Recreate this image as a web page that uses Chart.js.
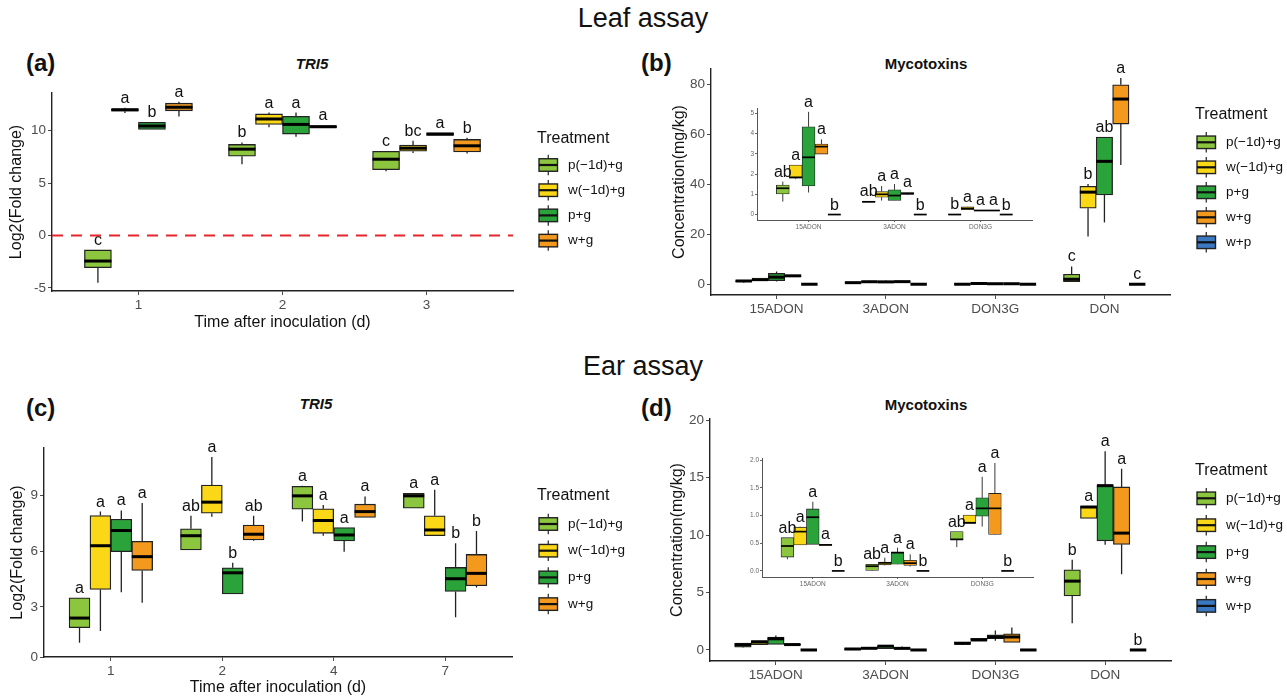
<!DOCTYPE html>
<html>
<head>
<meta charset="utf-8">
<script src="https://cdn.jsdelivr.net/npm/chart.js@4.4.0/dist/chart.umd.min.js"></script>
<style>
  body { margin: 0; background: #fff; width: 1287px; height: 700px; position: relative; overflow: hidden;
         font-family: "Liberation Sans", Arial, Helvetica, sans-serif; color: #111; }
  canvas { position: absolute; }
  .txt { position: absolute; white-space: nowrap; line-height: 1; }
  .head { font-size: 27px; transform: translateX(-50%); }
  .plab { font-size: 24px; font-weight: bold; }
  .ptitle { font-size: 15px; font-weight: bold; transform: translateX(-50%); }
</style>
</head>
<body>
<div class="txt head" style="left:643px;top:5px">Leaf assay</div>
<div class="txt head" style="left:643px;top:353px">Ear assay</div>
<div class="txt plab" style="left:26px;top:51px">(a)</div>
<div class="txt plab" style="left:641px;top:51px">(b)</div>
<div class="txt plab" style="left:26px;top:396px">(c)</div>
<div class="txt plab" style="left:641px;top:396px">(d)</div>
<div class="txt ptitle" style="left:312px;top:56px;font-style:italic">TRI5</div>
<div class="txt ptitle" style="left:926px;top:56px">Mycotoxins</div>
<div class="txt ptitle" style="left:316px;top:396px;font-style:italic">TRI5</div>
<div class="txt ptitle" style="left:926px;top:397px">Mycotoxins</div>

<canvas id="leafTri5" width="640" height="330" style="left:0;top:40px"></canvas>
<canvas id="leafTox" width="647" height="330" style="left:640px;top:40px"></canvas>
<canvas id="leafToxZoom" width="312" height="158" style="left:730px;top:80px"></canvas>
<canvas id="earTri5" width="640" height="320" style="left:0;top:380px"></canvas>
<canvas id="earTox" width="647" height="320" style="left:640px;top:380px"></canvas>
<canvas id="earToxZoom" width="312" height="168" style="left:735px;top:425px"></canvas>

<script>
// treatments, shared by all four panels
const TREATMENTS = ['p(−1d)+g', 'w(−1d)+g', 'p+g', 'w+g', 'w+p'];
const TREATMENT_COLORS = ['#8cc63e', '#fbd817', '#2ba33b', '#f39a1e', '#3b78c2'];

// each box is [min, q1, median, q3, max]

// (a) leaf assay, TRI5, by day
const LEAF_DAYS = ['1', '2', '3'];
const LEAF_TRI5_P1G = [[-4.52, -3.08, -2.44, -1.38, -1.38], [6.80, 7.56, 8.24, 8.69, 8.88], [6.12, 6.28, 7.28, 8.04, 8.04]];
const LEAF_TRI5_W1G = [[11.70, 11.86, 12.00, 12.10, 12.20], [10.32, 10.60, 11.12, 11.60, 11.73], [7.88, 8.04, 8.33, 8.62, 9.04]];
const LEAF_TRI5_PG = [[10.13, 10.13, 10.45, 10.80, 10.80], [9.42, 9.68, 10.60, 11.38, 11.73], [9.52, 9.55, 9.68, 9.80, 9.80]];
const LEAF_TRI5_WG = [[11.35, 11.90, 12.24, 12.63, 12.76], [10.26, 10.30, 10.38, 10.50, 10.50], [7.82, 7.98, 8.56, 9.17, 9.33]];
const LEAF_TRI5_LETTERS = [['c', 'b', 'c'], ['a', 'a', 'bc'], ['b', 'a', 'a'], ['a', 'a', 'b']];
const LEAF_TRI5_TICKS = [-5, 0, 5, 10];

// (b) leaf assay, mycotoxins (inset = first three toxins)
const TOXINS = ['15ADON', '3ADON', 'DON3G', 'DON'];
const LEAF_TOX_P1G = [[0.64, 1.02, 1.30, 1.46, 1.63], [0.60, 0.61, 0.63, 0.65, 0.66], [0, 0, 0, 0.01, 0.01], [1.07, 1.07, 2.00, 4.00, 7.10]];
const LEAF_TOX_W1G = [[1.75, 1.80, 1.84, 2.45, 2.45], [0.69, 0.86, 1.00, 1.13, 1.41], [0.23, 0.24, 0.30, 0.38, 0.39], [19.1, 30.4, 36.8, 39.1, 40.1]];
const LEAF_TOX_PG = [[1.09, 1.41, 2.83, 4.34, 5.08], [0.69, 0.70, 0.94, 1.22, 1.51], [0.18, 0.19, 0.20, 0.21, 0.22], [24.7, 35.7, 49.1, 58.8, 58.8]];
const LEAF_TOX_WG = [[2.99, 2.99, 3.36, 3.49, 3.72], [0.97, 1.00, 1.04, 1.09, 1.10], [0.18, 0.19, 0.20, 0.21, 0.22], [47.6, 64.0, 74.0, 79.7, 82.4]];
const LEAF_TOX_WP = [[0, 0, 0, 0, 0], [0, 0, 0, 0, 0], [0, 0, 0, 0, 0], [0, 0, 0, 0, 0]];
const LEAF_TOX_LETTERS = [['ab', 'ab', 'b', 'c'], ['a', 'a', 'a', 'b'], ['a', 'a', 'a', 'ab'], ['a', 'a', 'a', 'a'], ['b', 'b', 'b', 'c']];
const LEAF_TOX_TICKS = [0, 20, 40, 60, 80];
const LEAF_ZOOM_TICKS = [0, 1, 2, 3, 4, 5];

// (c) ear assay, TRI5, by day
const EAR_DAYS = ['1', '2', '4', '7'];
const EAR_TRI5_P1G = [[1.07, 1.88, 2.40, 3.49, 3.49], [6.07, 6.07, 6.84, 7.21, 7.91], [7.60, 8.27, 8.99, 9.50, 9.53], [8.32, 8.32, 8.99, 9.12, 9.12]];
const EAR_TRI5_W1G = [[1.70, 3.94, 6.30, 7.93, 8.14], [7.86, 8.05, 8.65, 9.57, 11.09], [6.84, 6.97, 7.66, 8.29, 8.49], [6.84, 6.84, 7.15, 7.91, 9.32]];
const EAR_TRI5_PG = [[3.79, 5.98, 7.12, 7.73, 8.20], [3.70, 3.70, 4.84, 5.11, 5.38], [5.98, 6.56, 6.88, 7.28, 7.28], [2.44, 3.83, 4.52, 5.13, 6.43]];
const EAR_TRI5_WG = [[3.23, 4.97, 5.71, 6.54, 8.60], [6.57, 6.61, 6.92, 7.42, 7.91], [7.82, 7.82, 8.14, 8.54, 8.96], [4.05, 4.14, 4.81, 5.83, 7.10]];
const EAR_TRI5_LETTERS = [['a', 'ab', 'a', 'a'], ['a', 'a', 'a', 'a'], ['a', 'b', 'a', 'b'], ['a', 'ab', 'a', 'b']];
// the original puts a "0" label at the bottom end of the axis
const EAR_TRI5_TICKS = [0.3, 3, 6, 9];
const EAR_TRI5_TICK_LABELS = ['0', '3', '6', '9'];

// (d) ear assay, mycotoxins (inset = first three toxins)
const EAR_TOX_P1G = [[0.21, 0.25, 0.45, 0.60, 0.60], [0, 0.01, 0.085, 0.12, 0.12], [0.43, 0.56, 0.57, 0.71, 0.71], [2.33, 4.71, 5.99, 6.98, 7.85]];
const EAR_TOX_W1G = [[0.47, 0.47, 0.71, 0.79, 0.80], [0.10, 0.11, 0.145, 0.16, 0.24], [0.86, 0.86, 0.87, 1.01, 1.01], [11.45, 11.45, 12.44, 12.50, 12.50]];
const EAR_TOX_PG = [[0.48, 0.48, 0.97, 1.12, 1.25], [0.115, 0.12, 0.33, 0.34, 0.42], [0.80, 0.99, 1.13, 1.32, 1.70], [9.16, 9.50, 14.30, 14.30, 17.30]];
const EAR_TOX_WG = [[0.46, 0.46, 0.47, 0.48, 0.48], [0.08, 0.10, 0.14, 0.19, 0.30], [0.65, 0.66, 1.13, 1.40, 1.95], [6.60, 9.19, 10.17, 14.19, 15.76]];
const EAR_TOX_WP = [[0, 0, 0, 0, 0], [0, 0, 0, 0, 0], [0, 0, 0, 0, 0], [0, 0, 0, 0, 0]];
const EAR_TOX_LETTERS = [['ab', 'ab', 'ab', 'b'], ['a', 'a', 'a', 'a'], ['a', 'a', 'a', 'a'], ['a', 'a', 'a', 'a'], ['b', 'b', 'b', 'b']];
const EAR_TOX_TICKS = [0, 5, 10, 15, 20];
const EAR_ZOOM_TICKS = [0, 0.5, 1, 1.5, 2];
const EAR_ZOOM_TICK_LABELS = ['0.0', '0.5', '1.0', '1.5', '2.0'];

Chart.defaults.font.family = '"Liberation Sans", Arial, Helvetica, sans-serif';

const EDGE = '#222';

// whiskers under the boxes, medians + letters on top
const boxParts = {
  id: 'boxParts',
  beforeDatasetsDraw(chart, args, opts) {
    const ctx = chart.ctx, y = chart.scales.y;
    ctx.save();
    ctx.strokeStyle = EDGE;
    ctx.lineWidth = opts.whisker;
    chart.data.datasets.forEach((ds, d) => {
      chart.getDatasetMeta(d).data.forEach((bar, i) => {
        const s = ds.stats[i];
        ctx.beginPath();
        ctx.moveTo(bar.x, y.getPixelForValue(s[0]));
        ctx.lineTo(bar.x, y.getPixelForValue(s[1]));
        ctx.moveTo(bar.x, y.getPixelForValue(s[3]));
        ctx.lineTo(bar.x, y.getPixelForValue(s[4]));
        ctx.stroke();
      });
    });
    ctx.restore();
  },
  afterDatasetsDraw(chart, args, opts) {
    const ctx = chart.ctx, y = chart.scales.y;
    ctx.save();
    chart.data.datasets.forEach((ds, d) => {
      chart.getDatasetMeta(d).data.forEach((bar, i) => {
        const s = ds.stats[i];
        const ym = y.getPixelForValue(s[2]);
        ctx.fillStyle = '#000';
        ctx.fillRect(bar.x - bar.width / 2, ym - opts.median / 2, bar.width, opts.median);
        if (opts.letterCats.includes(i)) {
          ctx.font = '16px "Liberation Sans", Arial, sans-serif';
          ctx.fillStyle = '#111';
          ctx.textAlign = 'center';
          ctx.textBaseline = 'alphabetic';
          ctx.fillText(ds.letters[i], bar.x, y.getPixelForValue(s[4]) - 5);
        }
      });
    });
    ctx.restore();
  }
};

const zeroLine = {
  id: 'zeroLine',
  afterDatasetsDraw(chart, args, opts) {
    const {ctx, chartArea} = chart;
    const yy = chart.scales.y.getPixelForValue(opts.value);
    ctx.save();
    ctx.strokeStyle = '#e5262a';
    ctx.lineWidth = 1.8;
    ctx.setLineDash([11, 8]);
    ctx.beginPath();
    ctx.moveTo(chartArea.left, yy);
    ctx.lineTo(chartArea.right, yy);
    ctx.stroke();
    ctx.restore();
  }
};

const boxLegend = {
  id: 'boxLegend',
  afterDraw(chart, args, opts) {
    const ctx = chart.ctx;
    ctx.save();
    ctx.textAlign = 'left';
    ctx.textBaseline = 'middle';
    ctx.fillStyle = '#111';
    ctx.font = '16px "Liberation Sans", Arial, sans-serif';
    ctx.fillText('Treatment', opts.x, opts.y);
    chart.data.datasets.forEach((ds, i) => {
      const cy = opts.rowY + i * opts.step;
      const gx = opts.x + 2, gw = 18.5, gh = 12.5;
      ctx.strokeStyle = EDGE;
      ctx.lineWidth = 1.2;
      ctx.beginPath();
      ctx.moveTo(gx + gw / 2, cy - gh / 2 - 4); ctx.lineTo(gx + gw / 2, cy - gh / 2);
      ctx.moveTo(gx + gw / 2, cy + gh / 2); ctx.lineTo(gx + gw / 2, cy + gh / 2 + 4);
      ctx.stroke();
      ctx.fillStyle = ds.backgroundColor;
      ctx.fillRect(gx, cy - gh / 2, gw, gh);
      ctx.lineWidth = 1.4;
      ctx.strokeRect(gx, cy - gh / 2, gw, gh);
      ctx.fillStyle = '#111';
      ctx.fillRect(gx, cy - 1.1, gw, 2.2);
      ctx.font = '13.5px "Liberation Sans", Arial, sans-serif';
      ctx.fillText(ds.label, opts.x + 31, cy);
    });
    ctx.restore();
  }
};

function series(statsList, lettersList, nCats) {
  return statsList.map((stats, t) => ({
    name: TREATMENTS[t],
    color: TREATMENT_COLORS[t],
    stats: stats.slice(0, nCats),
    letters: lettersList[t]
  }));
}

function boxChart(id, cfg) {
  const n = cfg.series.length;
  const dodge = 0.75 / n;
  const small = !!cfg.small;
  const datasets = cfg.series.map((s, t) => ({
    label: s.name,
    data: s.stats.map((st, i) => ({ x: i + 1 + (t - (n - 1) / 2) * dodge, y: [st[1], st[3]] })),
    stats: s.stats,
    letters: s.letters,
    backgroundColor: s.color,
    borderColor: EDGE,
    borderWidth: small ? 0.8 : 1.3,
    borderSkipped: false,
    grouped: false,
    barPercentage: 1,
    categoryPercentage: 1
  }));
  const tickFont = { size: small ? 6.5 : 13.5 };
  const tickColor = small ? '#666' : '#4d4d4d';
  const axisColor = small ? '#555' : '#222';

  return new Chart(document.getElementById(id), {
    type: 'bar',
    data: { datasets },
    options: {
      responsive: false,
      animation: false,
      events: [],
      layout: { padding: cfg.pad },
      plugins: {
        legend: { display: false },
        tooltip: { enabled: false },
        boxParts: { whisker: small ? 0.9 : 1.3, median: small ? 1.7 : 3, letterCats: cfg.letterCats },
        zeroLine: cfg.zeroLine || false,
        boxLegend: cfg.legend || false
      },
      scales: {
        x: {
          type: 'linear',
          min: 0.4,
          max: cfg.cats.length + 0.6,
          offset: false,
          afterBuildTicks: (s) => { s.ticks = cfg.cats.map((c, i) => ({ value: i + 1 })); },
          afterFit: (s) => { s.height = cfg.xh; },
          ticks: { callback: (v, i) => cfg.cats[i], font: tickFont, color: tickColor,
                   padding: small ? 1 : 2, autoSkip: false, maxRotation: 0 },
          grid: { display: true, drawOnChartArea: false, drawTicks: true, tickLength: small ? 2 : 4,
                  color: tickColor, offset: false },
          border: { display: true, color: axisColor, width: small ? 1 : 1.4 },
          title: cfg.xTitle
            ? { display: true, text: cfg.xTitle, font: { size: 16 }, color: '#111', padding: 0 }
            : { display: false }
        },
        y: {
          min: cfg.yMin,
          max: cfg.yMax,
          afterBuildTicks: (s) => { s.ticks = cfg.yTicks.map((v) => ({ value: v })); },
          afterFit: (s) => { s.width = cfg.yw; },
          ticks: {
            callback: (v, i) => (cfg.yTickLabels ? cfg.yTickLabels[i] : String(cfg.yTicks[i])),
            font: tickFont, color: tickColor, padding: small ? 1 : 2
          },
          grid: { display: true, drawOnChartArea: false, drawTicks: true, tickLength: small ? 2 : 4,
                  color: tickColor },
          border: { display: true, color: axisColor, width: small ? 1 : 1.4 },
          title: cfg.yTitle
            ? { display: true, text: cfg.yTitle, font: { size: 16 }, color: '#111',
                padding: { top: cfg.yTitlePad, bottom: 0 } }
            : { display: false }
        }
      }
    },
    plugins: [boxParts, zeroLine, boxLegend]
  });
}

// (a)
boxChart('leafTri5', {
  cats: LEAF_DAYS,
  series: series([LEAF_TRI5_P1G, LEAF_TRI5_W1G, LEAF_TRI5_PG, LEAF_TRI5_WG], LEAF_TRI5_LETTERS, 3),
  yMin: -5.3, yMax: 13.6, yTicks: LEAF_TRI5_TICKS,
  letterCats: [0, 1, 2],
  pad: { left: 0, top: 53, right: 127, bottom: 38 }, yw: 52, xh: 41,
  xTitle: 'Time after inoculation (d)', yTitle: 'Log2(Fold change)', yTitlePad: 7,
  zeroLine: { value: 0 },
  legend: { x: 537, y: 99, rowY: 125, step: 25.2 }
});

// (b)
boxChart('leafTox', {
  cats: TOXINS,
  series: series([LEAF_TOX_P1G, LEAF_TOX_W1G, LEAF_TOX_PG, LEAF_TOX_WG, LEAF_TOX_WP], LEAF_TOX_LETTERS, 4),
  yMin: -4.3, yMax: 86, yTicks: LEAF_TOX_TICKS,
  letterCats: [3],
  pad: { left: 0, top: 29, right: 117, bottom: 47 }, yw: 71, xh: 28,
  yTitle: 'Concentration(mg/kg)', yTitlePad: 30,
  legend: { x: 555, y: 75, rowY: 102.3, step: 25 }
});
boxChart('leafToxZoom', {
  small: true,
  cats: TOXINS.slice(0, 3),
  series: series([LEAF_TOX_P1G, LEAF_TOX_W1G, LEAF_TOX_PG, LEAF_TOX_WG, LEAF_TOX_WP], LEAF_TOX_LETTERS, 3),
  yMin: -0.27, yMax: 5.27, yTicks: LEAF_ZOOM_TICKS,
  letterCats: [0, 1, 2],
  pad: { left: 0, top: 28, right: 10, bottom: 4 }, yw: 27, xh: 14
});

// (c)
boxChart('earTri5', {
  cats: EAR_DAYS,
  series: series([EAR_TRI5_P1G, EAR_TRI5_W1G, EAR_TRI5_PG, EAR_TRI5_WG], EAR_TRI5_LETTERS, 4),
  yMin: 0.3, yMax: 11.57, yTicks: EAR_TRI5_TICKS, yTickLabels: EAR_TRI5_TICK_LABELS,
  letterCats: [0, 1, 2, 3],
  pad: { left: 0, top: 68, right: 128, bottom: 3 }, yw: 44, xh: 40,
  xTitle: 'Time after inoculation (d)', yTitle: 'Log2(Fold change)', yTitlePad: 8,
  legend: { x: 537, y: 115.7, rowY: 144, step: 26.7 }
});

// (d)
boxChart('earTox', {
  cats: TOXINS,
  series: series([EAR_TOX_P1G, EAR_TOX_W1G, EAR_TOX_PG, EAR_TOX_WG, EAR_TOX_WP], EAR_TOX_LETTERS, 4),
  yMin: -0.96, yMax: 20.1, yTicks: EAR_TOX_TICKS,
  letterCats: [3],
  pad: { left: 0, top: 39, right: 116, bottom: 11 }, yw: 70, xh: 28,
  yTitle: 'Concentration(mg/kg)', yTitlePad: 28,
  legend: { x: 555, y: 90.7, rowY: 118.3, step: 26.9 }
});
boxChart('earToxZoom', {
  small: true,
  cats: TOXINS.slice(0, 3),
  series: series([EAR_TOX_P1G, EAR_TOX_W1G, EAR_TOX_PG, EAR_TOX_WG, EAR_TOX_WP], EAR_TOX_LETTERS, 3),
  yMin: -0.11, yMax: 2.04, yTicks: EAR_ZOOM_TICKS, yTickLabels: EAR_ZOOM_TICK_LABELS,
  letterCats: [0, 1, 2],
  pad: { left: 0, top: 33, right: 14, bottom: 3 }, yw: 27, xh: 13
});
</script>
</body>
</html>
